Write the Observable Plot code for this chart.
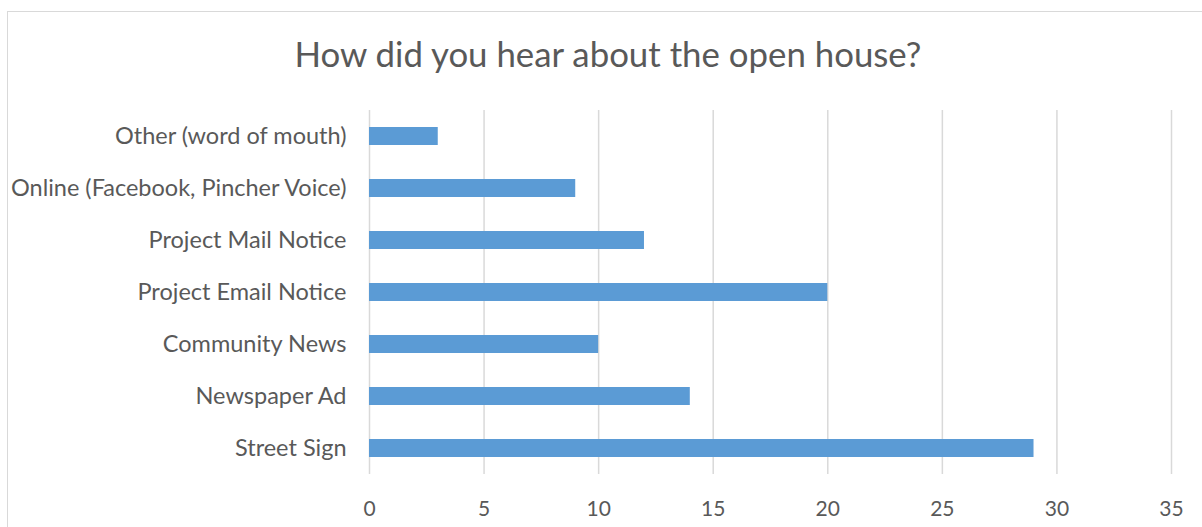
<!DOCTYPE html>
<html><head><meta charset="utf-8">
<script src="https://cdn.jsdelivr.net/npm/d3@7"></script>
<script src="https://cdn.jsdelivr.net/npm/@observablehq/plot@0.6"></script>
<style>
body{margin:0;overflow:hidden;background:#fff;font-family:Lato,"Open Sans",sans-serif;}
#frame{position:absolute;left:7px;top:11px;width:1240px;height:560px;border:1px solid #d9d9d9;pointer-events:none;}
#title{height:100px;text-align:center;color:#595959;font-size:34.8px;line-height:1;padding-top:37px;box-sizing:border-box;margin-left:14px;}
</style></head><body>
<div id="frame"></div>
<div id="chart"><div id="title">How did you hear about the open house?</div></div>
<script>
const categories = ["Other (word of mouth)","Online (Facebook, Pincher Voice)","Project Mail Notice","Project Email Notice","Community News","Newspaper Ad","Street Sign"];
const values = [3,9,12,20,10,14,29];
const xTicks = [0,5,10,15,20,25,30,35];
const data = categories.map((c,i)=>({category:c,value:values[i]}));
const plot = Plot.plot({
  width:1202, height:427,
  marginLeft:369, marginRight:31, marginTop:10, marginBottom:53,
  style:{fontFamily:"Lato, 'Open Sans', sans-serif", color:"#595959", background:"transparent"},
  x:{domain:[0,35], ticks:xTicks, label:null, tickSize:0},
  y:{domain:categories, label:null, tickSize:0, paddingInner:0.65, paddingOuter:0.325, align:0.5},
  marks:[
    Plot.gridX(xTicks,{stroke:"#d9d9d9", strokeOpacity:1, strokeWidth:1.5}),
    Plot.barX(data,{x:"value", y:"category", fill:"#5b9bd5"}),
    Plot.axisX({ticks:xTicks, tickSize:0, tickPadding:27, fontSize:21, fill:"#595959", label:null}),
    Plot.axisY({tickSize:0, tickPadding:23, fontSize:23.5, fill:"#595959", label:null})
  ]
});
document.getElementById("chart").appendChild(plot);
</script>
</body></html>
